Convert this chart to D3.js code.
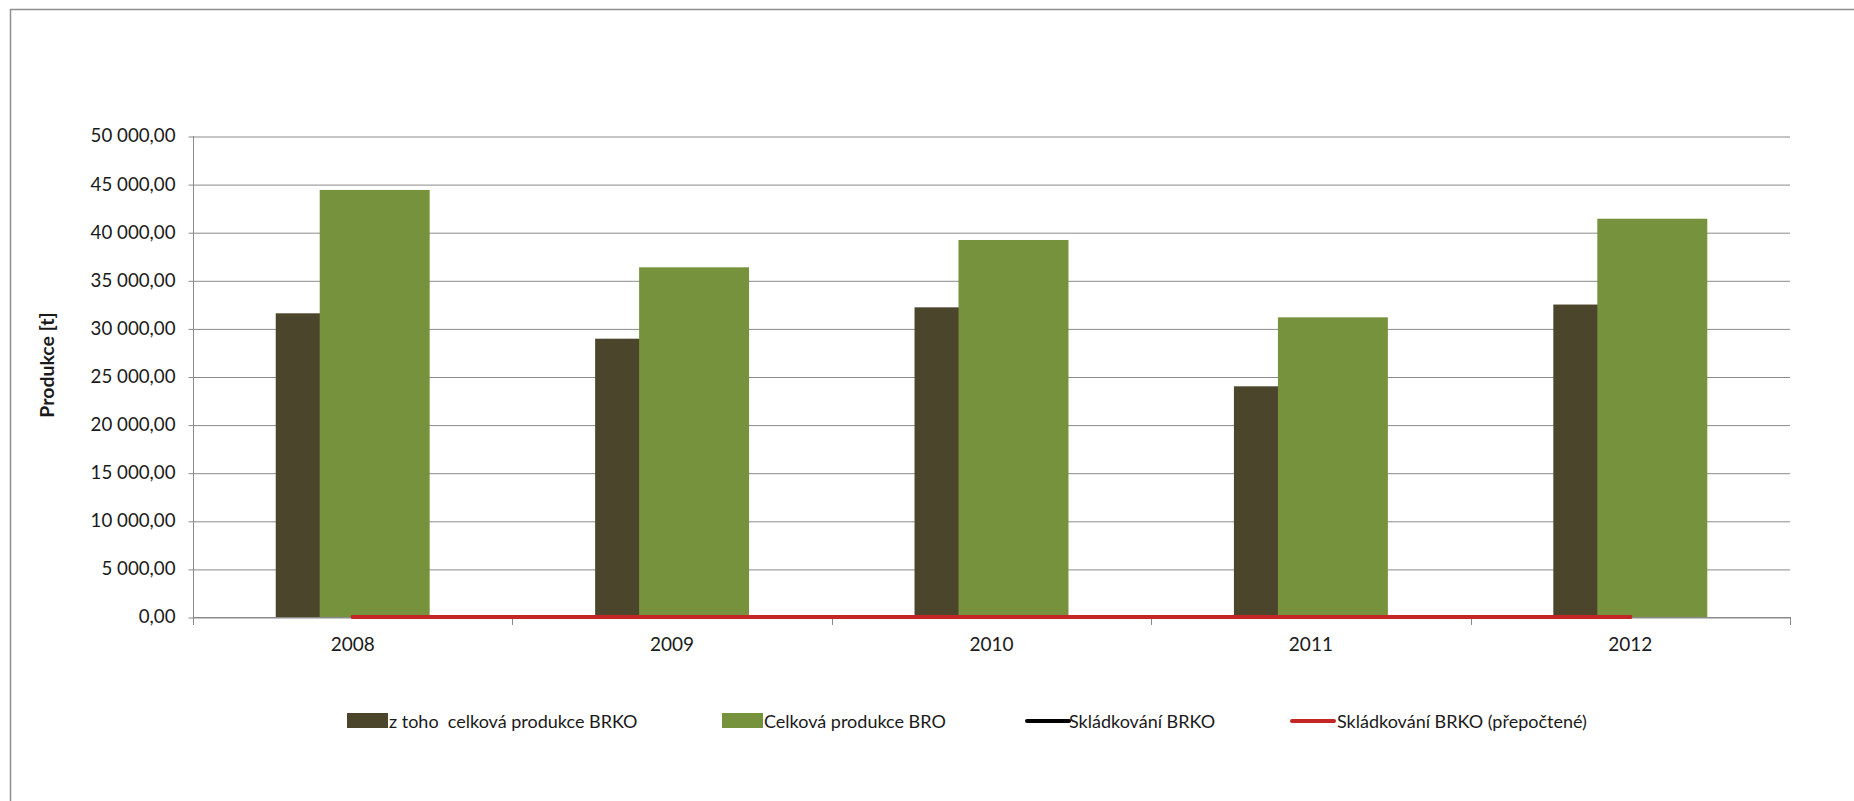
<!DOCTYPE html>
<html><head><meta charset="utf-8">
<script src="https://cdn.jsdelivr.net/npm/d3@7"></script>
<style>
body{margin:0;background:#fff;}
svg{display:block;}
text{font-family:Lato,"Open Sans",sans-serif;fill:#1a1a1a;}
</style>
</head><body>
<svg id="chart" width="1854" height="801"></svg>
<script>
// ---- data ----
const years = ["2008", "2009", "2010", "2011", "2012"];
const brkoTotal = [31570, 28930, 32190, 23980, 32480];          // z toho celková produkce BRKO
const broTotal = [44390, 36350, 39190, 31150, 41400];           // Celková produkce BRO
const landfillBRKO = [0, 0, 0, 0, 0];                           // Skládkování BRKO
const landfillBRKORecalc = [0, 0, 0, 0, 0];                     // Skládkování BRKO (přepočtené)
const yTickValues = [0, 5000, 10000, 15000, 20000, 25000, 30000, 35000, 40000, 45000, 50000];
const seriesNames = ["z toho  celková produkce BRKO", "Celková produkce BRO", "Skládkování BRKO", "Skládkování BRKO (přepočtené)"];
const yTitle = "Produkce [t]";

// ---- styles / layout ----
const colDark = "#4b452c", colGreen = "#76923c", colBlack = "#000000", colRed = "#c42525";
const gridCol = "#8a8a8a";
const pLeft = 193, pRight = 1790, pTop = 136, pBottom = 617;

const svg = d3.select("#chart");
svg.append("rect").attr("x", 0).attr("y", 0).attr("width", 1854).attr("height", 801).attr("fill", "#fff");
svg.append("rect").attr("x", 10.5).attr("y", 9.5).attr("width", 1900).attr("height", 900)
  .attr("fill", "none").attr("stroke", "#8e8e8e").attr("stroke-width", 1.5);

const x = d3.scaleBand().domain(years).range([pLeft, pRight]).padding(0);
const y = d3.scaleLinear().domain([0, 50000]).range([pBottom, pTop]);

const loc = d3.formatLocale({decimal: ",", thousands: " ", grouping: [3], currency: ["", ""]});
const fmt = loc.format(",.2f");

// gridlines
const grid = svg.append("g").attr("transform", `translate(${pLeft},0)`)
  .call(d3.axisLeft(y).tickValues(yTickValues).tickSize(-(pRight - pLeft)).tickFormat(""));
grid.select(".domain").remove();
grid.selectAll("line").attr("stroke", gridCol).attr("stroke-width", 1)
  .attr("transform", "translate(0,0.5)");

// y axis
const yAxis = svg.append("g").attr("transform", `translate(${pLeft + 0.5},0)`)
  .call(d3.axisLeft(y).tickValues(yTickValues).tickSize(5).tickPadding(13).tickFormat(fmt));
yAxis.select(".domain").attr("stroke", gridCol).attr("d", `M0,${pTop}V${pBottom + 8}`);
yAxis.selectAll(".tick line").attr("stroke", gridCol).attr("transform", "translate(0,0.5)");
yAxis.selectAll(".tick text").attr("font-size", 18.7).attr("fill", "#1a1a1a")
  .attr("font-family", "Lato");

// y title
svg.append("text").attr("transform", `translate(54,365) rotate(-90)`)
  .attr("text-anchor", "middle").attr("font-size", 19.5).attr("font-weight", "bold")
  .text(yTitle);

// bars
const gw = x.bandwidth() * 0.482;
const bw = gw * 110 / 154;
const cx = d => x(d) + x.bandwidth() / 2;
svg.append("g").selectAll("rect").data(years).join("rect")
  .attr("x", d => cx(d) - gw / 2).attr("width", bw)
  .attr("y", (d, i) => y(brkoTotal[i])).attr("height", (d, i) => y(0) - y(brkoTotal[i]))
  .attr("fill", colDark);
svg.append("g").selectAll("rect").data(years).join("rect")
  .attr("x", d => cx(d) + gw / 2 - bw).attr("width", bw)
  .attr("y", (d, i) => y(broTotal[i])).attr("height", (d, i) => y(0) - y(broTotal[i]))
  .attr("fill", colGreen);

// x axis
svg.append("line").attr("x1", pLeft).attr("x2", pRight).attr("y1", pBottom + 0.5).attr("y2", pBottom + 0.5)
  .attr("stroke", gridCol);
const bounds = years.map(d => x(d)).concat([pRight]);
svg.append("g").selectAll("line").data(bounds).join("line")
  .attr("x1", d => Math.round(d) + 0.5).attr("x2", d => Math.round(d) + 0.5)
  .attr("y1", pBottom).attr("y2", pBottom + 8).attr("stroke", gridCol);
svg.append("g").selectAll("text").data(years).join("text")
  .attr("x", d => cx(d)).attr("y", 651).attr("text-anchor", "middle").attr("font-size", 19)
  .text(d => d);

// lines
const line = d3.line().x((d, i) => cx(years[i])).y(d => y(d));
svg.append("path").datum(landfillBRKO).attr("d", line).attr("fill", "none")
  .attr("stroke", colBlack).attr("stroke-width", 3.5).attr("stroke-linecap", "round");
svg.append("path").datum(landfillBRKORecalc).attr("d", line).attr("fill", "none")
  .attr("stroke", colRed).attr("stroke-width", 4).attr("stroke-linecap", "round");

// legend
const lg = svg.append("g");
const legendItems = [
  {type: "rect", color: colDark, x: 347, tx: 389},
  {type: "rect", color: colGreen, x: 722, tx: 764},
  {type: "line", color: colBlack, x: 1027, tx: 1069},
  {type: "line", color: colRed, x: 1292, tx: 1337}
];
legendItems.forEach((it, i) => {
  if (it.type === "rect") {
    lg.append("rect").attr("x", it.x).attr("y", 713).attr("width", 41).attr("height", 15).attr("fill", it.color);
  } else {
    lg.append("line").attr("x1", it.x).attr("x2", it.x + 42).attr("y1", 721).attr("y2", 721)
      .attr("stroke", it.color).attr("stroke-width", 4).attr("stroke-linecap", "round");
  }
  lg.append("text").attr("x", it.tx).attr("y", 727.5).attr("font-size", 18)
    .style("white-space", "pre").text(seriesNames[i]);
});
</script>
</body></html>
